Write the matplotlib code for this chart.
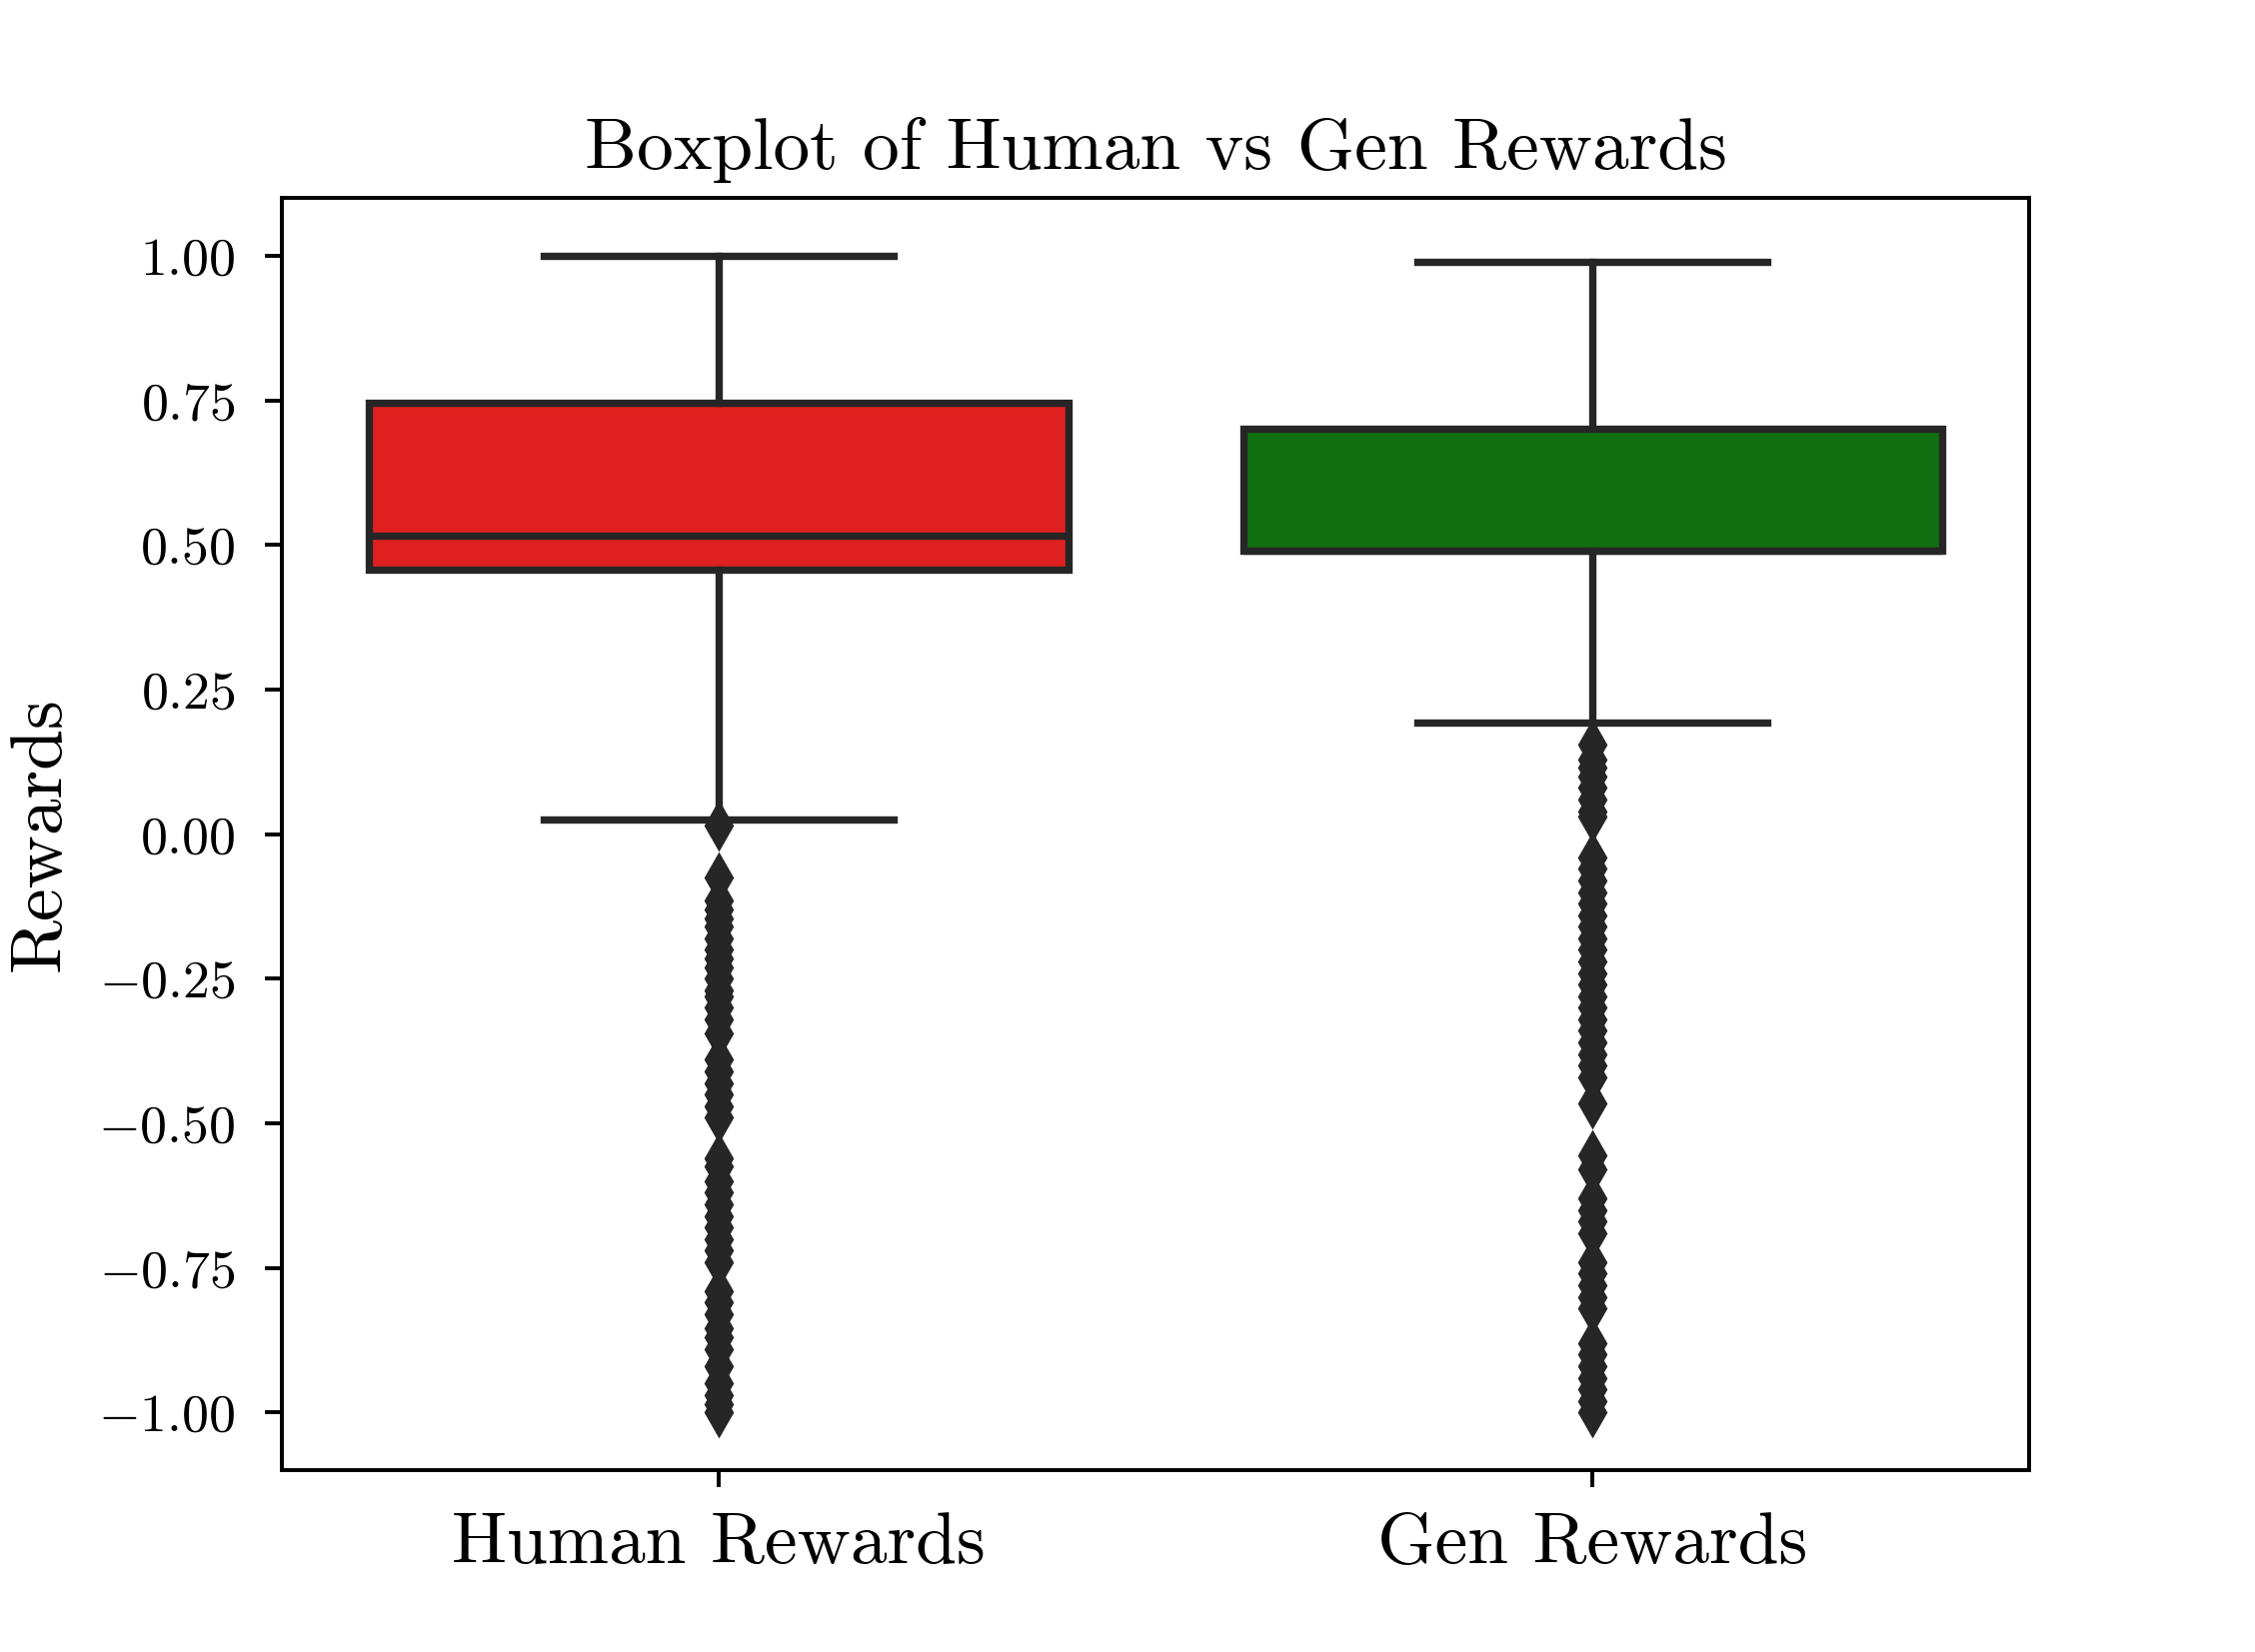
import matplotlib
matplotlib.use("Agg")
import matplotlib.pyplot as plt

plt.rcParams["font.family"] = "cmr10"
plt.rcParams["mathtext.fontset"] = "cm"
plt.rcParams["axes.formatter.use_mathtext"] = True

# box statistics
categories = ["Human Rewards", "Gen Rewards"]
box_colors = ["#df2020", "#107010"]
whisker_low = [0.026, 0.193]
q1 = [0.458, 0.491]
median = [0.516, 0.491]
q3 = [0.747, 0.702]
whisker_high = [1.0, 0.99]

human_outliers = [0.015, -0.075, -0.115, -0.13, -0.145, -0.16, -0.18, -0.2,
                  -0.215, -0.23, -0.25, -0.27, -0.28, -0.30, -0.32, -0.345,
                  -0.39, -0.41, -0.43, -0.45, -0.47, -0.49, -0.56, -0.575,
                  -0.6, -0.62, -0.64, -0.66, -0.68, -0.70, -0.72, -0.74,
                  -0.79, -0.81, -0.83, -0.855, -0.87, -0.89, -0.92, -0.95,
                  -0.97, -0.985, -1.0]
gen_outliers = [0.155, 0.13, 0.115, 0.1, 0.08, 0.06, 0.04, 0.03, -0.04,
                -0.06, -0.08, -0.1, -0.12, -0.14, -0.16, -0.18, -0.2, -0.22,
                -0.24, -0.26, -0.28, -0.3, -0.32, -0.34, -0.36, -0.38, -0.4,
                -0.42, -0.465, -0.555, -0.58, -0.63, -0.65, -0.67, -0.69,
                -0.74, -0.76, -0.78, -0.80, -0.82, -0.88, -0.9, -0.92, -0.94,
                -0.96, -0.98, -1.0]
outliers = [human_outliers, gen_outliers]

stats = []
for i in range(len(categories)):
    stats.append(dict(label=categories[i], whislo=whisker_low[i], q1=q1[i],
                      med=median[i], q3=q3[i], whishi=whisker_high[i],
                      fliers=outliers[i]))

dark = "#262626"
lw = 1.5

fig, ax = plt.subplots(figsize=(2256 / 352.5, 1653 / 352.5), dpi=352.5)
bp = ax.bxp(stats, positions=[0, 1], widths=0.8, capwidths=0.4,
            patch_artist=True,
            boxprops=dict(edgecolor=dark, linewidth=lw),
            whiskerprops=dict(color=dark, linewidth=lw),
            capprops=dict(color=dark, linewidth=lw),
            medianprops=dict(color=dark, linewidth=lw),
            flierprops=dict(marker="d", markersize=6, markerfacecolor=dark,
                            markeredgecolor=dark, markeredgewidth=1.0))
for patch, c in zip(bp["boxes"], box_colors):
    patch.set_facecolor(c)

ax.set_xlim(-0.5, 1.5)
ax.set_ylim(-1.1, 1.1)
ax.set_yticks([-1.0, -0.75, -0.5, -0.25, 0.0, 0.25, 0.5, 0.75, 1.0])
ax.set_xticks([0, 1])
ax.set_xticklabels(categories, fontsize=15)
ax.tick_params(axis="y", labelsize=11, pad=6)
ax.tick_params(axis="x", pad=5)
ax.set_ylabel("Rewards", fontsize=15, labelpad=5)
ax.set_title("Boxplot of Human vs Gen Rewards", fontsize=15)

fig.savefig("out.png", dpi=352.5)
